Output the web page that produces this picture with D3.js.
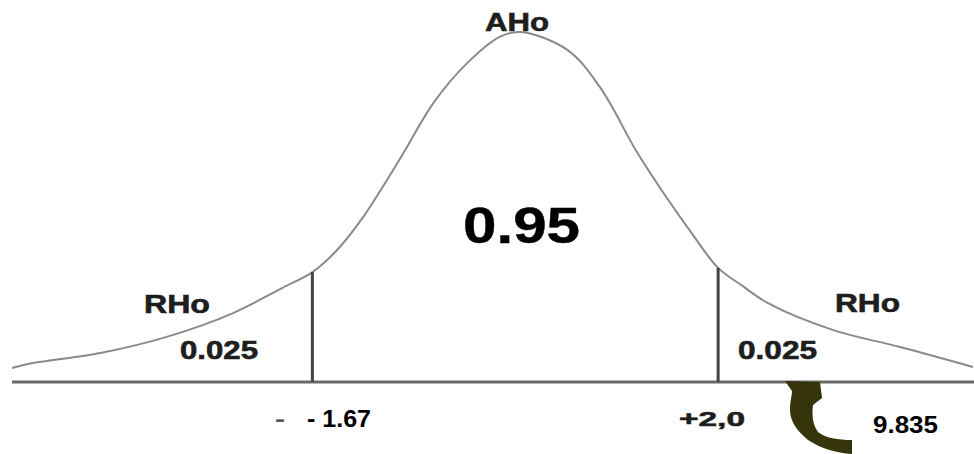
<!DOCTYPE html>
<html>
<head>
<meta charset="utf-8">
<script src="https://cdn.jsdelivr.net/npm/d3@7/dist/d3.min.js"></script>
<style>
  html, body { margin: 0; padding: 0; background: #fff; }
  svg { display: block; }
  text { font-family: "Liberation Sans", Arial, sans-serif; font-weight: bold; }
</style>
</head>
<body>
<svg id="chart" width="974" height="454"></svg>
<script>
// ---- data (z-like position, relative height) ----
const curveZ = [-3.91, -3.75, -3.23, -2.72, -2.21, -1.83, -1.60, -1.41, -1.21, -1.06, -0.90, -0.67, -0.41, -0.16, 0.0, 0.36, 0.61, 0.90, 1.10, 1.30, 1.52, 1.71, 1.90, 2.40, 2.92, 3.48];
const curveH = [0.040, 0.054, 0.083, 0.129, 0.197, 0.269, 0.314, 0.377, 0.471, 0.557, 0.654, 0.797, 0.911, 0.986, 1.0, 0.949, 0.843, 0.654, 0.540, 0.434, 0.326, 0.274, 0.226, 0.149, 0.100, 0.043];
const criticalZ = [-1.60, 1.52];
const criticalLabels = ["- 1.67", "+2,0"];
const tailAreas = ["0.025", "0.025"];
const tailLabels = ["RHo", "RHo"];
const centerLabel = "AHo";
const centerArea = "0.95";
const statValue = "9.835";

const svg = d3.select("#chart");
const x = d3.scaleLinear().domain([-3.91, 3.48]).range([12, 973]);
const y = d3.scaleLinear().domain([0, 1]).range([382, 32]);

const pts = curveZ.map((z, i) => [z, curveH[i]]);
const heightAt = z => {
  const i = d3.bisector(d => d[0]).left(pts, z);
  if (i <= 0) return pts[0][1];
  if (i >= pts.length) return pts[pts.length - 1][1];
  const a = pts[i - 1], b = pts[i];
  const t = (z - a[0]) / (b[0] - a[0]);
  return a[1] + t * (b[1] - a[1]);
};

// baseline
svg.append("line")
  .attr("x1", 12).attr("x2", 974)
  .attr("y1", y(0)).attr("y2", y(0))
  .attr("stroke", "#6a6a6a").attr("stroke-width", 3);

// curve
const line = d3.line().x(d => x(d[0])).y(d => y(d[1])).curve(d3.curveCatmullRom.alpha(0.5));
svg.append("path")
  .attr("d", line(pts))
  .attr("fill", "none")
  .attr("stroke", "#8a8a8a")
  .attr("stroke-width", 2);

// critical lines
svg.selectAll("line.crit").data(criticalZ).enter().append("line")
  .attr("class", "crit")
  .attr("x1", d => x(d)).attr("x2", d => x(d))
  .attr("y1", y(0)).attr("y2", d => y(heightAt(d)))
  .attr("stroke", "#444").attr("stroke-width", 3);

function label(txt, x0, yb, size, width, color, sw) {
  svg.append("text")
    .attr("x", x0).attr("y", yb)
    .attr("font-size", size)
    .attr("fill", color || "#1e1e1e")
    .attr("stroke", color || "#1e1e1e")
    .attr("stroke-width", sw === undefined ? 0.6 : sw)
    .attr("textLength", width)
    .attr("lengthAdjust", "spacingAndGlyphs")
    .text(txt);
}

label(centerLabel, 485, 31, 25, 64);
label(tailLabels[0], 144, 313, 25, 66);
label(tailAreas[0], 180, 359, 25, 78);
label(tailLabels[1], 835, 312, 25, 65);
label(tailAreas[1], 738, 359, 25, 79);
label(centerArea, 463, 243, 50, 117, "#000", 0.4);
label("-", 275, 426, 22, 10, "#555", 0);
label(criticalLabels[0], 307, 427, 24, 64, "#000", 0);
label(criticalLabels[1], 679, 426, 21, 66);
label(statValue, 873, 433, 24, 65, "#000", 0);

// curved arrow pointing up to the axis
svg.append("path")
  .attr("d", "M785,381 L820,382 L822,398 L813,405 C812,413 812,424 818,432 C825,438 838,440 852,440 L852,454 C836,453 820,448 808,440 C797,431 790,421 790,410 C790,401 792,396 792,391 Z")
  .attr("fill", "#35340a");
</script>
</body>
</html>
